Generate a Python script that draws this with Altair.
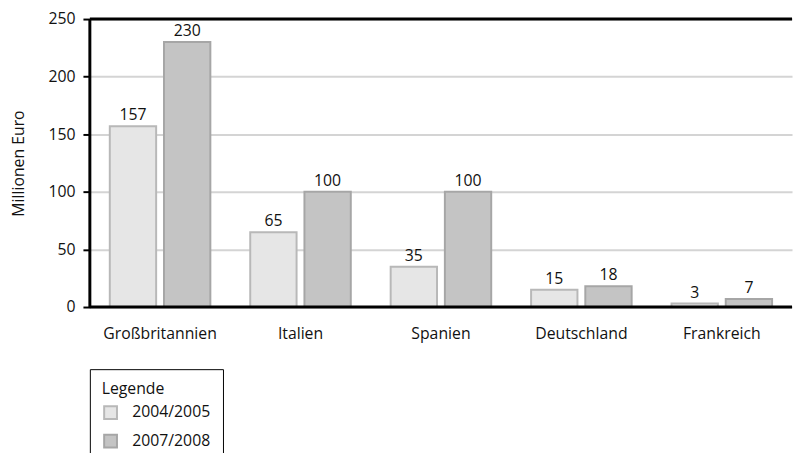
import altair as alt
import pandas as pd

countries = ["Großbritannien", "Italien", "Spanien", "Deutschland", "Frankreich"]
years = ["2004/2005", "2007/2008"]
values_0405 = [157, 65, 35, 15, 3]
values_0708 = [230, 100, 100, 18, 7]

rows = []
for c, a, b in zip(countries, values_0405, values_0708):
    rows.append({"Land": c, "Jahr": years[0], "Wert": a})
    rows.append({"Land": c, "Jahr": years[1], "Wert": b})
df = pd.DataFrame(rows)

FONT = "Open Sans"
FS = 16
fills = ["#e6e6e6", "#c4c4c4"]
strokes = ["#b8b8b8", "#a6a6a6"]

x = alt.X("Land:N", sort=countries, title=None,
          scale=alt.Scale(paddingInner=0.284, paddingOuter=0.142),
          axis=alt.Axis(labelAngle=0, ticks=False, domain=False, labelPadding=19,
                        labelFontSize=FS, labelFont=FONT, labelColor="#111"))
xo = alt.XOffset("Jahr:N", sort=years, scale=alt.Scale(paddingInner=0.145, paddingOuter=0))
y = alt.Y("Wert:Q", title="Millionen Euro",
          scale=alt.Scale(domain=[0, 250], nice=False),
          axis=alt.Axis(values=[0, 50, 100, 150, 200, 250], tickSize=7, tickWidth=2,
                        tickColor="#000", domain=False, gridColor="#d4d4d4", gridWidth=2,
                        labelFontSize=FS, labelFont=FONT, labelColor="#111", labelPadding=8,
                        titleFontSize=FS, titleFont=FONT, titleFontWeight="normal",
                        titleColor="#111", titlePadding=22))

bars = alt.Chart(df).mark_bar(strokeWidth=2).encode(
    x=x, xOffset=xo, y=y,
    fill=alt.Fill("Jahr:N", sort=years, scale=alt.Scale(domain=years, range=fills),
                  legend=alt.Legend(title="Legende", orient="none", legendX=0, legendY=355,
                                    direction="vertical", symbolType="square", symbolSize=169,
                                    symbolStrokeWidth=2, strokeColor="#000", padding=12,
                                    labelFontSize=FS, labelFont=FONT, labelColor="#111",
                                    titleFontSize=FS, titleFont=FONT, titleFontWeight="normal",
                                    titleColor="#111", titlePadding=8, rowPadding=7,
                                    labelOffset=14, symbolOffset=1, offset=0)),
    stroke=alt.Stroke("Jahr:N", sort=years, scale=alt.Scale(domain=years, range=strokes),
                      legend=None),
)

labels = alt.Chart(df).mark_text(baseline="bottom", dy=-3, fontSize=FS, font=FONT,
                                 color="#111").encode(
    x=alt.X("Land:N", sort=countries), xOffset=alt.XOffset("Jahr:N", sort=years),
    y="Wert:Q", text="Wert:Q")

frame_top = alt.Chart(pd.DataFrame({"v": [250]})).mark_rule(color="#000", strokeWidth=3).encode(y="v:Q")
frame_bottom = alt.Chart(pd.DataFrame({"v": [0]})).mark_rule(color="#000", strokeWidth=3).encode(y="v:Q")
frame_left = alt.Chart(pd.DataFrame({"v": [0]})).mark_rule(color="#000", strokeWidth=3).encode(
    x=alt.value(0), y=alt.value(0), y2=alt.value(292))

chart = alt.layer(bars, labels, frame_top, frame_bottom, frame_left).properties(
    width=712, height=292,
    padding={"left": 2, "top": 0, "right": 0, "bottom": 0},
).configure_view(stroke=None).configure_axis(grid=True).configure_axisX(grid=False)

chart.save("out.html", embed_options={"renderer": "svg", "actions": False})
